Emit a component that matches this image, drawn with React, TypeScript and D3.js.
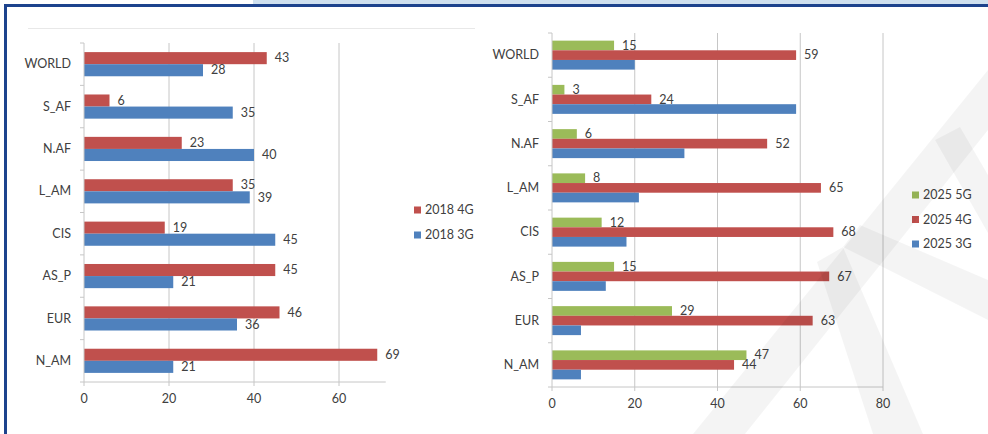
import { useEffect, useRef } from "react";
import * as d3 from "d3";

const regions = ["WORLD", "S_AF", "N.AF", "L_AM", "CIS", "AS_P", "EUR", "N_AM"];

// 2018 chart
const g4_2018 = [43, 6, 23, 35, 19, 45, 46, 69];
const g3_2018 = [28, 35, 40, 39, 45, 21, 36, 21];

// 2025 chart (3G has no labels in the picture)
const g5_2025 = [15, 3, 6, 8, 12, 15, 29, 47];
const g4_2025 = [59, 24, 52, 65, 68, 67, 63, 44];
const g3_2025 = [20, 59, 32, 21, 18, 13, 7, 7];

const ticks2018 = [0, 20, 40, 60];
const ticks2025 = [0, 20, 40, 60, 80];

const RED = "#C0504D";
const BLUE = "#4F81BD";
const GREEN = "#9BBB59";
const TEXT = "#404040";
const GRID = "#c6c6c6";
const FONT = "Lato, 'Open Sans', sans-serif";

function drawChart(svg, opts) {
  const { x0, x1, xMax, y0, y1, ticks, series, groupRatio, legendX, legendY, legendGap } = opts;
  const g = svg.append("g");

  const x = d3.scaleLinear().domain([0, xMax]).range([x0, x1]);
  const y = d3.scaleBand().domain(regions).range([y0, y1]);
  const band = y.bandwidth();
  const inner = d3
    .scaleBand()
    .domain(series.map((s) => s.key))
    .range([(band * (1 - groupRatio)) / 2, (band * (1 + groupRatio)) / 2]);

  // gridlines
  ticks.filter((t) => t > 0).forEach((t) => {
    g.append("line")
      .attr("x1", x(t)).attr("x2", x(t))
      .attr("y1", y0).attr("y2", y1)
      .attr("stroke", GRID);
  });

  // bars + value labels
  series.forEach((s) => {
    regions.forEach((r, i) => {
      const by = y(r) + inner(s.key);
      g.append("rect")
        .attr("x", x(0))
        .attr("y", by)
        .attr("width", x(s.values[i]) - x(0))
        .attr("height", inner.bandwidth())
        .attr("fill", s.color);
      if (s.label) {
        g.append("text")
          .attr("x", x(s.values[i]) + 8)
          .attr("y", by + inner.bandwidth() / 2 + 1)
          .attr("dominant-baseline", "middle")
          .attr("fill", TEXT)
          .attr("font-family", FONT)
          .attr("font-size", 12.5)
          .text(s.values[i]);
      }
    });
  });

  // axes
  g.append("line")
    .attr("x1", x0).attr("x2", x0).attr("y1", y0).attr("y2", y1)
    .attr("stroke", GRID);
  g.append("line")
    .attr("x1", x0 - 4).attr("x2", x1).attr("y1", y1).attr("y2", y1)
    .attr("stroke", GRID);
  regions.forEach((r) => {
    g.append("line")
      .attr("x1", x0 - 4).attr("x2", x0)
      .attr("y1", y(r)).attr("y2", y(r))
      .attr("stroke", GRID);
    g.append("text")
      .attr("x", x0 - 13)
      .attr("y", y(r) + band / 2 + 1)
      .attr("text-anchor", "end")
      .attr("dominant-baseline", "middle")
      .attr("fill", TEXT)
      .attr("font-family", FONT)
      .attr("font-size", 12.5)
      .text(r);
  });
  ticks.forEach((t) => {
    g.append("line")
      .attr("x1", x(t)).attr("x2", x(t))
      .attr("y1", y1).attr("y2", y1 + 4)
      .attr("stroke", GRID);
    g.append("text")
      .attr("x", x(t))
      .attr("y", y1 + 18)
      .attr("text-anchor", "middle")
      .attr("dominant-baseline", "middle")
      .attr("fill", TEXT)
      .attr("font-family", FONT)
      .attr("font-size", 12.5)
      .text(t);
  });

  // legend, same order as the bars
  series.forEach((s, i) => {
    const ly = legendY + i * legendGap;
    g.append("rect")
      .attr("x", legendX).attr("y", ly - 3.5)
      .attr("width", 7).attr("height", 7)
      .attr("fill", s.color);
    g.append("text")
      .attr("x", legendX + 11)
      .attr("y", ly + 1)
      .attr("dominant-baseline", "middle")
      .attr("fill", TEXT)
      .attr("font-family", FONT)
      .attr("font-size", 12.5)
      .text(s.name);
  });
}

export default function App() {
  const svgRef = useRef(null);

  useEffect(() => {
    if (!svgRef.current) return;
    const svg = d3.select(svgRef.current);
    svg.selectAll("*").remove();

    svg.append("rect").attr("width", 988).attr("height", 434).attr("fill", "#fff");

    // page frame
    svg.append("rect").attr("x", 253).attr("y", 0).attr("width", 735).attr("height", 4).attr("fill", "#cfe0ef");
    svg.append("rect").attr("x", 4).attr("y", 4).attr("width", 984).attr("height", 3).attr("fill", "#1d438d");
    svg.append("rect").attr("x", 4).attr("y", 4).attr("width", 3).attr("height", 430).attr("fill", "#1d438d");
    svg.append("line").attr("x1", 28).attr("x2", 475).attr("y1", 28.5).attr("y2", 28.5).attr("stroke", "#e8e8e8");

    drawChart(svg, {
      x0: 84, x1: 385.75, xMax: 71, y0: 43, y1: 382,
      ticks: ticks2018, groupRatio: 0.57,
      legendX: 414, legendY: 210, legendGap: 25,
      series: [
        { key: "4G", name: "2018 4G", values: g4_2018, color: RED, label: true },
        { key: "3G", name: "2018 3G", values: g3_2018, color: BLUE, label: true },
      ],
    });

    drawChart(svg, {
      x0: 552, x1: 883, xMax: 80, y0: 33, y1: 387,
      ticks: ticks2025, groupRatio: 0.655,
      legendX: 912, legendY: 195, legendGap: 24.5,
      series: [
        { key: "5G", name: "2025 5G", values: g5_2025, color: GREEN, label: true },
        { key: "4G", name: "2025 4G", values: g4_2025, color: RED, label: true },
        { key: "3G", name: "2025 3G", values: g3_2025, color: BLUE, label: false },
      ],
    });

    // faint watermark strokes
    const wm = svg.append("g").attr("fill", "#000").attr("fill-opacity", 0.045);
    [
      [[693, 434], [745, 434], [988, 130], [988, 70]],
      [[817, 262], [843, 247], [923, 434], [873, 434]],
      [[843, 247], [860, 225], [988, 280], [988, 320]],
      [[935, 140], [960, 127], [988, 175], [988, 233]],
    ].forEach((pts) => {
      wm.append("polygon").attr("points", pts.map((p) => p.join(",")).join(" "));
    });
  }, []);

  return (
    <svg
      ref={svgRef}
      width={988}
      height={434}
      style={{ position: "absolute", left: 0, top: 0 }}
    />
  );
}
